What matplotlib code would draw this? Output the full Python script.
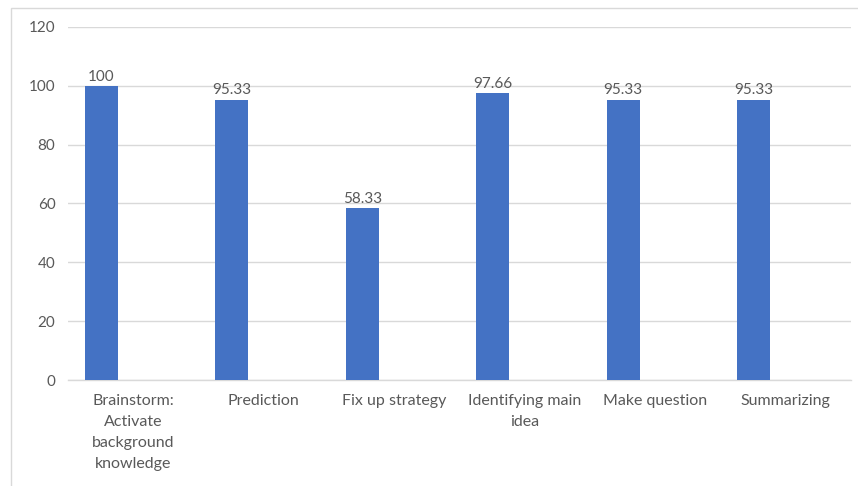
import matplotlib
matplotlib.use('Agg')
import matplotlib.pyplot as plt
import numpy as np
from matplotlib.patches import Rectangle

plt.rcParams['font.family'] = ['Lato', 'DejaVu Sans']

# 数据
categories = ['Brainstorm:\nActivate\nbackground\nknowledge', 'Prediction', 'Fix up strategy',
              'Identifying main\nidea', 'Make question', 'Summarizing']
scores = [100, 95.33, 58.33, 97.66, 95.33, 95.33]
score_labels = ['100', '95.33', '58.33', '97.66', '95.33', '95.33']
y_ticks = [0, 20, 40, 60, 80, 100, 120]

text_color = '#595959'
grid_color = '#d9d9d9'

fig = plt.figure(figsize=(8.58, 4.86), dpi=100)
ax = fig.add_axes([68 / 858, 1 - 380 / 486, (851 - 68) / 858, (380 - 27) / 486])

# 外框（只露出左边和上边）
fig.patches.append(Rectangle((11 / 858, -0.1), 1.2, 1 - 8 / 486 + 0.1, transform=fig.transFigure,
                             fill=False, edgecolor='#d9d9d9', linewidth=1))

x = np.arange(len(categories))
bars = ax.bar(x - 0.245, scores, width=0.25, color='#4472C4', zorder=3)

for b, lab in zip(bars, score_labels):
    ax.annotate(lab, (b.get_x() + b.get_width() / 2, b.get_height()), textcoords='offset points',
                xytext=(0, 1.5), ha='center', va='bottom', fontsize=11, color=text_color)

ax.set_xlim(-0.5, len(categories) - 0.5)
ax.set_ylim(0, 120)
ax.set_yticks(y_ticks)
ax.set_xticks(x)
ax.set_xticklabels(categories, fontsize=11.5, color=text_color, linespacing=1.65)
ax.tick_params(axis='y', labelsize=11, labelcolor=text_color, length=0, pad=9)
ax.tick_params(axis='x', length=0, pad=10)
ax.yaxis.grid(True, color=grid_color, linewidth=1, zorder=0)
for s in ['top', 'right', 'left']:
    ax.spines[s].set_visible(False)
ax.spines['bottom'].set_color(grid_color)
ax.spines['bottom'].set_linewidth(1)

fig.savefig('out.png', dpi=100)
